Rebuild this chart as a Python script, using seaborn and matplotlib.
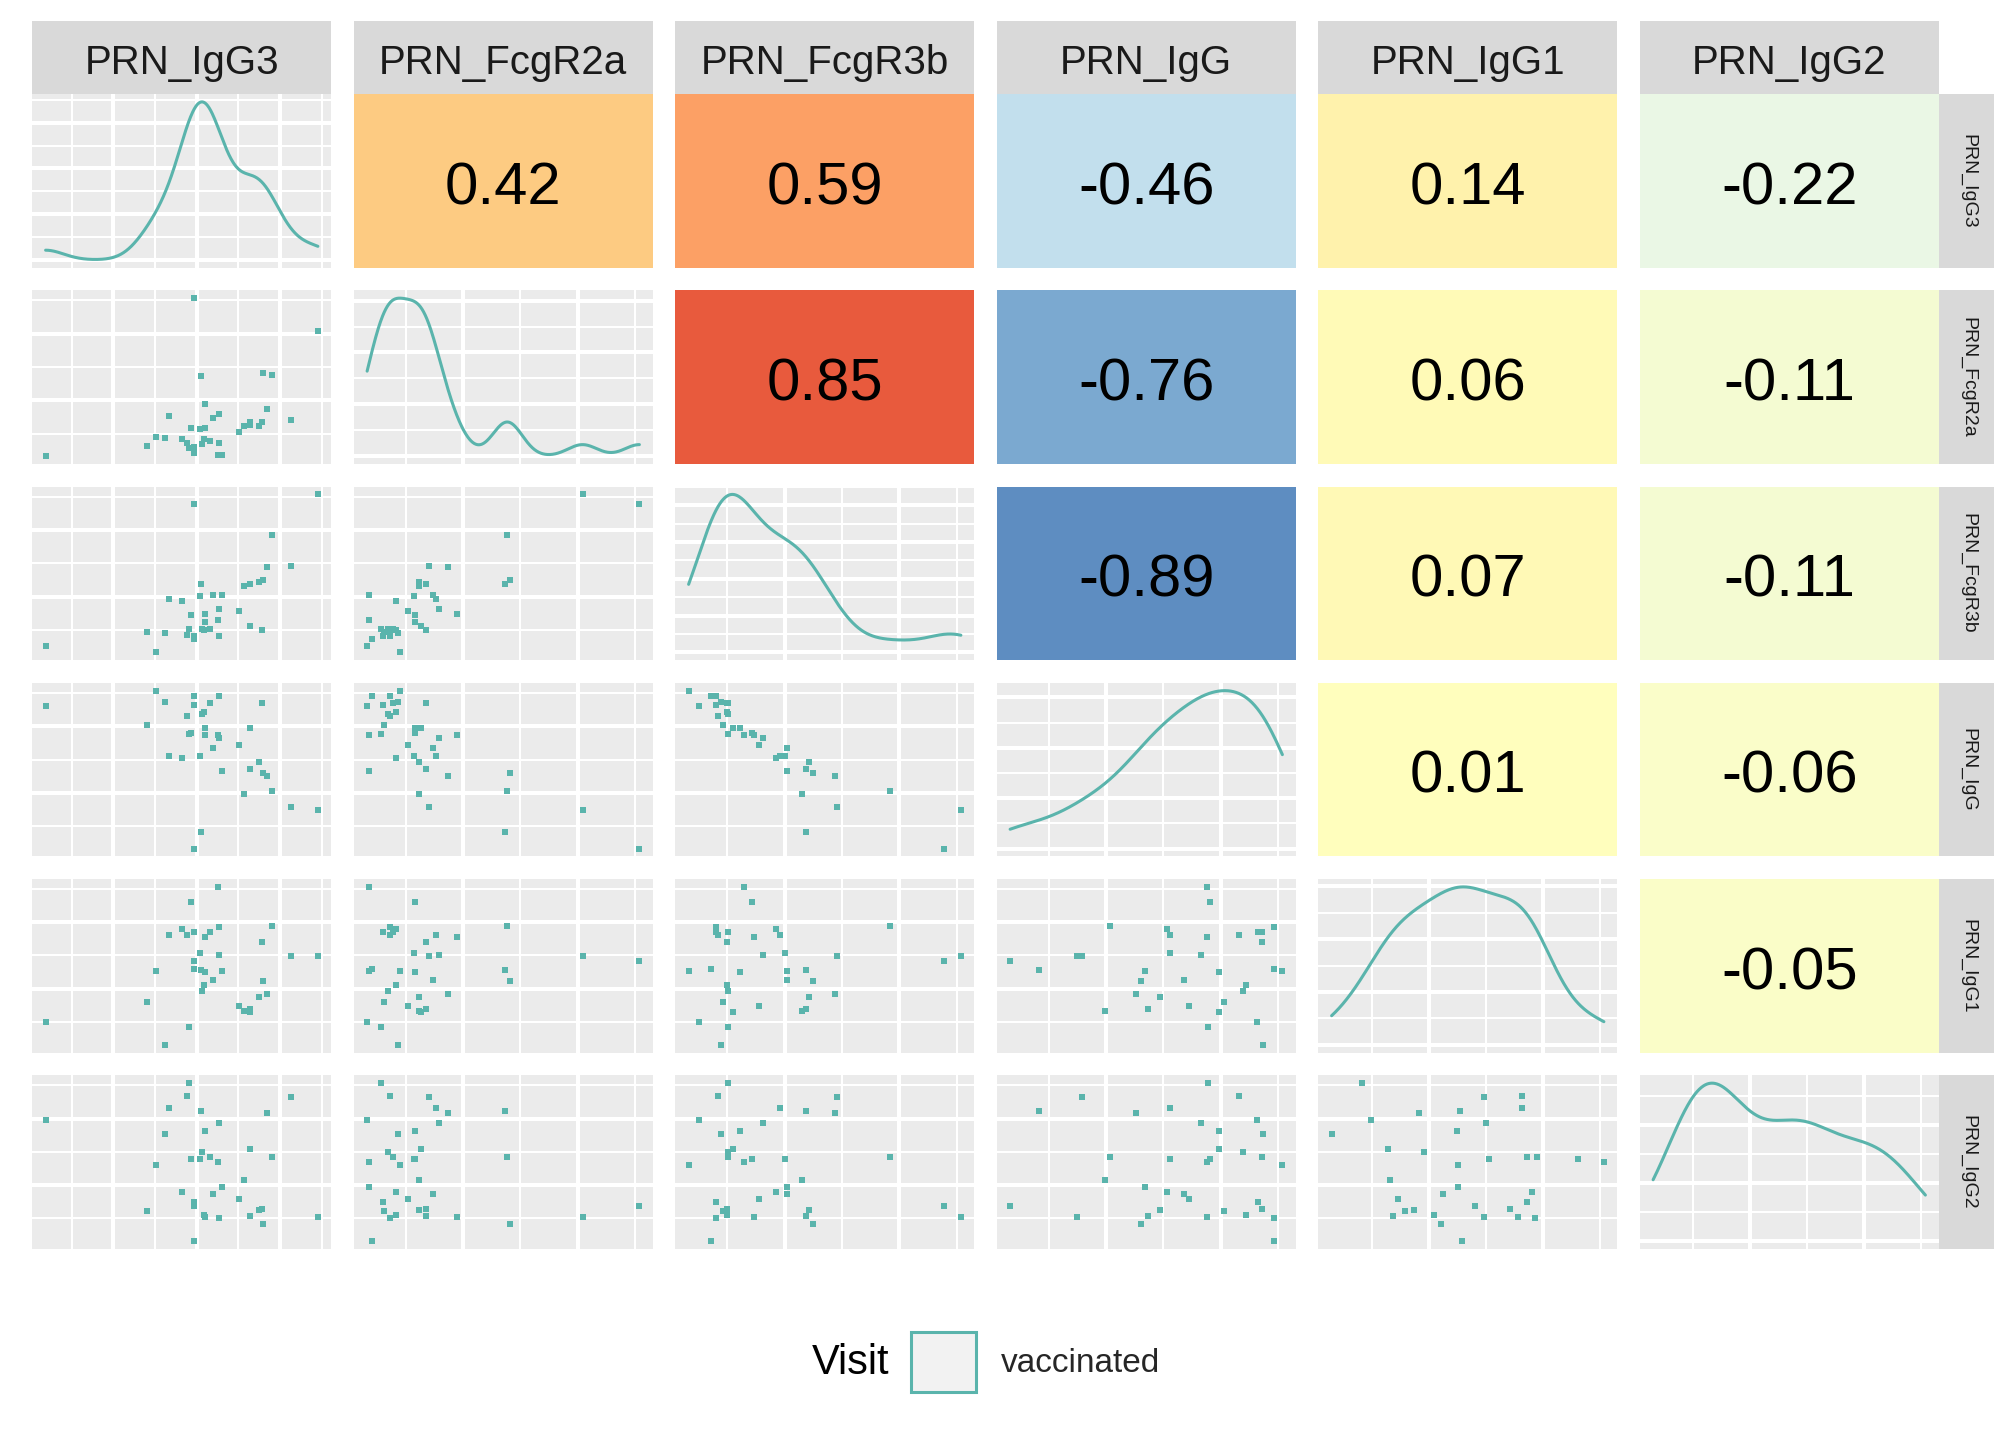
"""
Pairs plot of PRN antibody features (ggpairs look) with seaborn.
"""

import numpy as np
import pandas as pd
import matplotlib
matplotlib.use("Agg")
import matplotlib.pyplot as plt
import seaborn as sns
from matplotlib.colors import LinearSegmentedColormap
from matplotlib.patches import Patch
from matplotlib.ticker import MaxNLocator, AutoMinorLocator
from matplotlib.transforms import offset_copy


VARIABLES = ["PRN_IgG3", "PRN_FcgR2a", "PRN_FcgR3b", "PRN_IgG", "PRN_IgG1", "PRN_IgG2"]

# values (arbitrary units, one entry per subject)
PRN_IgG3 = [0.47, 3.51, 3.78, 4.05, 4.17, 4.56, 4.71, 4.77, 4.83, 4.92,
            4.92, 4.92, 5.10, 5.13, 5.16, 5.22, 5.25, 5.25, 5.40, 5.49,
            5.64, 5.67, 5.67, 5.76, 6.27, 6.42, 6.60, 6.60, 6.87, 6.96,
            6.99, 7.11, 7.26, 7.83, 8.64]
PRN_FcgR2a = [0.33, 0.63, 0.90, 0.87, 1.53, 0.84, 0.72, 0.57, 1.17, 5.07,
              0.60, 0.42, 1.14, 2.73, 0.69, 0.84, 1.89, 1.17, 0.78, 1.47,
              0.36, 1.59, 0.72, 0.36, 1.05, 1.23, 1.35, 1.26, 1.23, 1.35,
              2.82, 1.74, 2.76, 1.41, 4.08]
PRN_FcgR3b = [0.51, 0.93, 0.33, 0.90, 1.92, 1.86, 0.84, 1.02, 1.44, 4.77,
              0.81, 0.72, 2.01, 2.37, 1.02, 0.99, 1.47, 1.23, 1.02, 2.04,
              1.29, 1.62, 0.81, 2.04, 1.56, 2.31, 2.37, 1.11, 2.43, 0.99,
              2.49, 2.88, 3.84, 2.91, 5.07]
PRN_IgG = [4.62, 4.05, 5.07, 4.74, 3.12, 3.06, 4.32, 3.78, 3.81, 0.33,
           4.65, 4.92, 3.12, 0.84, 4.38, 4.44, 3.75, 3.96, 4.71, 3.36,
           3.75, 3.66, 4.92, 2.67, 3.45, 1.98, 2.73, 3.96, 2.94, 4.71,
           2.61, 2.52, 2.07, 1.59, 1.50]
PRN_IgG1 = [0.99, 1.59, 2.52, 0.30, 3.63, 3.81, 3.63, 0.84, 4.62, 2.82,
            3.72, 2.58, 3.06, 2.55, 1.92, 2.10, 3.57, 2.49, 3.72, 2.25,
            5.07, 3.00, 3.87, 2.52, 1.47, 1.32, 1.38, 1.29, 1.74, 3.42,
            2.22, 1.83, 3.90, 2.97, 2.97]
PRN_IgG2 = [3.96, 1.20, 2.61, 3.54, 4.32, 1.77, 4.68, 5.07, 2.79, 1.35,
            1.47, 0.30, 2.79, 4.23, 3.00, 1.08, 1.02, 3.63, 2.85, 1.71,
            2.70, 3.87, 0.99, 1.92, 1.56, 2.16, 1.05, 3.09, 1.23, 1.26,
            0.81, 4.17, 2.85, 4.65, 1.02]

# correlations printed in the upper triangle, row by row
CORR_VALUES = [0.42, 0.59, -0.46, 0.14, -0.22,
               0.85, -0.76, 0.06, -0.11,
               -0.89, 0.07, -0.11,
               0.01, -0.06,
               -0.05]

LEGEND_TITLE = "Visit"
GROUP_LABEL = "vaccinated"

# number of major grid intervals per variable
GRID_BINS = [4, 5, 5, 5, 5, 5]

POINT_COLOR = "#5AB4AC"
PANEL_BG = "#EBEBEB"
STRIP_BG = "#D9D9D9"

# RdYlBu, 7 classes, blue for -1 and red for +1
TILE_COLORS = ["#4575B4", "#91BFDB", "#E0F3F8", "#FFFFBF",
               "#FEE090", "#FC8D59", "#D73027"]

W, H = 2016, 1440


def style_panel(ax, xbins, ybins):
    ax.set_facecolor(PANEL_BG)
    ax.xaxis.set_major_locator(MaxNLocator(nbins=xbins, steps=[1, 2, 2.5, 5, 10]))
    ax.yaxis.set_major_locator(MaxNLocator(nbins=ybins, steps=[1, 2, 2.5, 5, 10]))
    ax.xaxis.set_minor_locator(AutoMinorLocator(2))
    ax.yaxis.set_minor_locator(AutoMinorLocator(2))
    ax.grid(True, which="major", color="white", linewidth=2.9)
    ax.grid(True, which="minor", color="white", linewidth=1.45)
    ax.set_axisbelow(True)
    ax.tick_params(which="both", length=0, labelbottom=False, labelleft=False)
    for s in ax.spines.values():
        s.set_visible(False)
    ax.set_xlabel("")
    ax.set_ylabel("")


def make_strip(fig, rect, label, rotation, size, shift):
    sax = fig.add_axes(rect)
    sax.set_facecolor(STRIP_BG)
    sax.set_xticks([])
    sax.set_yticks([])
    for s in sax.spines.values():
        s.set_visible(False)
    if rotation:
        tr = offset_copy(sax.transAxes, fig=fig, x=shift, units="points")
    else:
        tr = offset_copy(sax.transAxes, fig=fig, y=-shift, units="points")
    sax.text(0.5, 0.5, label, ha="center", va="center", rotation=rotation,
             fontsize=size, color="#1A1A1A", transform=tr)


def main():
    df = pd.DataFrame({
        "PRN_IgG3": PRN_IgG3,
        "PRN_FcgR2a": PRN_FcgR2a,
        "PRN_FcgR3b": PRN_FcgR3b,
        "PRN_IgG": PRN_IgG,
        "PRN_IgG1": PRN_IgG1,
        "PRN_IgG2": PRN_IgG2,
    })

    sns.set_theme(style="white")
    plt.rcParams["font.family"] = ["Liberation Sans", "DejaVu Sans"]

    cmap = LinearSegmentedColormap.from_list("rdylbu7", TILE_COLORS)

    # ggplot style 5% expansion
    limits = {}
    for v in VARIABLES:
        lo, hi = df[v].min(), df[v].max()
        pad = 0.05 * (hi - lo)
        limits[v] = (lo - pad, hi + pad)

    fig, axes = plt.subplots(6, 6, figsize=(W / 100, H / 100), dpi=100)
    fig.subplots_adjust(
        left=32 / W, right=1939 / W,
        top=1 - 94 / H, bottom=1 - 1249 / H,
        wspace=0.0735, hspace=0.1295
    )

    n = len(VARIABLES)
    corr_iter = iter(CORR_VALUES)

    for i in range(n):
        for j in range(n):
            ax = axes[i, j]
            xv, yv = VARIABLES[j], VARIABLES[i]

            if i == j:
                vals = df[xv].to_numpy()
                sd = vals.std(ddof=1)
                iqr = np.subtract(*np.percentile(vals, [75, 25]))
                bw = 0.9 * min(sd, iqr / 1.34) * len(vals) ** (-0.2)
                sns.kdeplot(
                    x=vals, ax=ax, bw_method=bw / sd, cut=0,
                    gridsize=512, color=POINT_COLOR, linewidth=2.2
                )
                ymax = ax.lines[0].get_ydata().max()
                ax.set_xlim(*limits[xv])
                ax.set_ylim(-0.05 * ymax, 1.05 * ymax)
                style_panel(ax, GRID_BINS[j], 5)

            elif i > j:
                sns.scatterplot(
                    x=df[xv], y=df[yv], ax=ax, color=POINT_COLOR,
                    marker="s", s=14, linewidth=0
                )
                ax.set_xlim(*limits[xv])
                ax.set_ylim(*limits[yv])
                style_panel(ax, GRID_BINS[j], GRID_BINS[i])

            else:
                r = next(corr_iter)
                sns.heatmap(
                    np.array([[r]]), ax=ax, cmap=cmap, vmin=-1, vmax=1,
                    cbar=False, annot=True, fmt=".2f",
                    annot_kws={"color": "black", "fontsize": 43},
                    xticklabels=False, yticklabels=False
                )
                # nudge the number so the digits sit on the tile centre
                for t in ax.texts:
                    t.set_transform(offset_copy(t.get_transform(), fig=fig,
                                                y=-5.5, units="points"))
                ax.tick_params(length=0)
                ax.set_xlabel("")
                ax.set_ylabel("")

    # top strips
    for j, v in enumerate(VARIABLES):
        pos = axes[0, j].get_position()
        make_strip(fig, [pos.x0, pos.y1, pos.width, 73 / H], v, 0, 29, 4.0)

    # right strips
    for i, v in enumerate(VARIABLES):
        pos = axes[i, n - 1].get_position()
        make_strip(fig, [pos.x1, pos.y0, 55 / W, pos.height], v, 270, 14, 1.0)

    # legend
    key = Patch(facecolor="#F2F2F2", edgecolor=POINT_COLOR, linewidth=2.2)
    fig.legend(
        [key], [GROUP_LABEL], loc="center left",
        bbox_to_anchor=(911 / W, 1 - 1362 / H),
        frameon=False, fontsize=24,
        handlelength=1.95, handleheight=2.4,
        handletextpad=0.75, borderpad=0, borderaxespad=0
    )
    fig.text(889 / W, 1 - 1363 / H, LEGEND_TITLE, ha="right", va="center",
             fontsize=30, color="black")

    fig.savefig("out.png", dpi=100)
    plt.close(fig)


if __name__ == "__main__":
    main()
